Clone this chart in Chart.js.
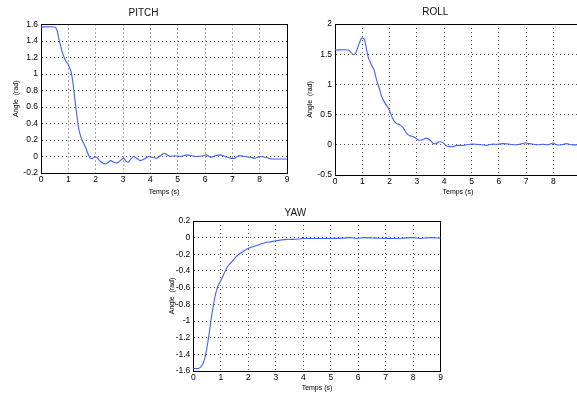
<!DOCTYPE html>
<html>
<head>
<meta charset="utf-8">
<script src="https://cdn.jsdelivr.net/npm/chart.js@4/dist/chart.umd.min.js"></script>
<style>
html,body{margin:0;padding:0;background:#fff;overflow:hidden;width:577px;height:394px;}
.box{position:absolute;}
canvas{display:block;}
</style>
</head>
<body>
<div class="box" style="left:0px;top:0px;width:300px;height:200px"><canvas id="pitch" width="300" height="200"></canvas></div>
<div class="box" style="left:290px;top:0px;width:310px;height:200px"><canvas id="roll" width="310" height="200"></canvas></div>
<div class="box" style="left:150px;top:195px;width:300px;height:199px"><canvas id="yaw" width="300" height="199"></canvas></div>
<script>
// ---- data ----
const pitchT = [0,0.5,0.585,0.68,0.79,0.89,1.0,1.1,1.17,1.24,1.32,1.39,1.5,1.62,1.71,1.8,1.9,1.99,2.07,2.17,2.37,2.54,2.66,2.78,2.9,3.02,3.12,3.2,3.29,3.39,3.54,3.63,3.78,3.94,4.06,4.24,4.37,4.51,4.61,4.73,4.91,5.1,5.34,5.52,5.7,5.95,6.07,6.2,6.38,6.56,6.74,6.93,7.1,7.23,7.48,7.66,7.84,8.02,8.2,8.33,8.45,8.63,9.0];
const pitchY = [1.57,1.57,1.53,1.39,1.25,1.17,1.11,1.03,0.89,0.69,0.48,0.32,0.2,0.12,0.04,-0.02,-0.02,0.0,-0.02,-0.06,-0.09,-0.05,-0.07,-0.08,-0.05,-0.02,-0.06,-0.07,-0.03,0.0,-0.03,-0.05,-0.03,0.0,-0.01,-0.02,0.01,0.04,0.02,0.0,0.01,0.0,0.02,0.01,0.0,0.01,0.02,-0.01,0.01,0.02,0.0,-0.02,-0.02,0.01,0.0,-0.01,-0.02,0.0,-0.01,-0.02,-0.03,-0.03,-0.03];

const rollT = [0,0.49,0.585,0.67,0.76,0.85,0.95,1.01,1.09,1.16,1.23,1.34,1.43,1.52,1.62,1.71,1.83,1.95,2.01,2.11,2.23,2.38,2.5,2.62,2.74,2.89,3.05,3.17,3.35,3.48,3.6,3.7,3.82,3.94,4.06,4.21,4.33,4.45,4.7,4.94,5.18,5.37,5.55,5.73,5.98,6.16,6.4,6.59,6.77,6.95,7.13,7.38,7.62,7.8,7.99,8.11,8.29,8.48,8.66,8.87,9.0];
const rollY = [1.57,1.57,1.53,1.49,1.52,1.63,1.75,1.77,1.73,1.57,1.43,1.32,1.24,1.08,0.94,0.8,0.69,0.61,0.55,0.44,0.36,0.33,0.28,0.19,0.15,0.13,0.08,0.08,0.11,0.08,0.02,0.02,0.05,0.04,-0.01,-0.03,-0.03,-0.01,-0.01,0.01,0.01,0.0,-0.01,0.01,0.01,0.02,0.01,0.0,0.01,0.03,0.02,0.0,0.01,0.0,0.03,0.0,0.0,0.02,0.0,0.0,0.0];

const yawT = [0,0.18,0.3,0.4,0.49,0.57,0.64,0.73,0.83,0.91,1.01,1.12,1.24,1.4,1.55,1.7,1.88,2.06,2.25,2.43,2.61,2.79,2.97,3.16,3.4,3.64,4.0,4.49,4.98,5.46,5.7,5.95,6.19,6.67,7.16,7.65,8.0,8.25,8.62,9.0];
const yawY = [-1.57,-1.57,-1.54,-1.47,-1.33,-1.17,-1.0,-0.81,-0.65,-0.57,-0.51,-0.43,-0.35,-0.29,-0.23,-0.19,-0.15,-0.12,-0.1,-0.08,-0.06,-0.05,-0.04,-0.03,-0.02,-0.02,-0.01,-0.01,-0.01,-0.005,0.0,-0.01,0.0,-0.005,-0.01,-0.005,0.0,-0.01,0.0,-0.005];

const xTicks = [0,1,2,3,4,5,6,7,8,9];
const pitchYTicks = [-0.2,0,0.2,0.4,0.6,0.8,1,1.2,1.4,1.6];
const rollYTicks = [-0.5,0,0.5,1,1.5,2];
const yawYTicks = [-1.6,-1.4,-1.2,-1,-0.8,-0.6,-0.4,-0.2,0,0.2];

const FONT = "'Liberation Sans', Arial, sans-serif";
const LINE = '#3f5fff';
const GRID = '#555';

function makeChart(id, title, T, Y, yTicks, g) {
  const pts = T.map((t, i) => ({x: t, y: Y[i]}));
  const fixTicks = arr => (s => { s.ticks = arr.map(v => ({value: v})); });
  new Chart(document.getElementById(id), {
    type: 'line',
    data: { datasets: [{ data: pts, borderColor: LINE, borderWidth: 1.1, pointRadius: 0, tension: 0.25, fill: false }] },
    options: {
      responsive: false, animation: false, devicePixelRatio: 1,
      layout: { padding: { top: 0, right: g.padRight, bottom: 0, left: 0 } },
      plugins: {
        legend: { display: false }, tooltip: { enabled: false },
        title: { display: true, text: title, color: '#111', font: { family: FONT, size: 10, weight: 'normal' }, padding: { top: g.tTop, bottom: g.tBot } }
      },
      scales: {
        x: {
          type: 'linear', position: 'bottom', min: 0, max: 9,
          afterBuildTicks: fixTicks(xTicks),
          afterFit: s => { s.height = g.xH; },
          ticks: { color: '#000', font: { family: FONT, size: 8.5 }, padding: 2, maxRotation: 0, autoSkip: false, callback: v => String(v) },
          grid: { color: GRID, lineWidth: 1, drawTicks: false },
          border: { display: true, color: '#000', width: 1, dash: [1, 3] },
          title: { display: true, text: 'Temps (s)', color: '#000', font: { family: FONT, size: 7 }, padding: { top: 0, bottom: g.xTitlePad } }
        },
        y: {
          type: 'linear', position: 'left', min: yTicks[0], max: yTicks[yTicks.length - 1],
          afterBuildTicks: fixTicks(yTicks),
          afterFit: s => { s.width = g.yW; },
          ticks: { color: '#000', font: { family: FONT, size: 8.5 }, padding: 3, autoSkip: false, callback: v => String(Math.round(v * 10) / 10) },
          grid: { color: GRID, lineWidth: 1, drawTicks: false },
          border: { display: true, color: '#000', width: 1, dash: [1, 3] },
          title: { display: true, text: 'Angle  (rad)', color: '#000', font: { family: FONT, size: 7 }, padding: { top: g.yTitlePad, bottom: 0 } }
        },
        x2: {
          type: 'linear', position: 'top', min: 0, max: 9,
          afterFit: s => { s.height = 0; },
          ticks: { display: false }, grid: { display: false, drawTicks: false },
          border: { display: true, color: '#000', width: 1 }
        },
        y2: {
          type: 'linear', position: 'right', min: 0, max: 1,
          afterFit: s => { s.width = 0; },
          ticks: { display: false }, grid: { display: false, drawTicks: false },
          border: { display: true, color: '#000', width: 1 }
        }
      }
    }
  });
}

makeChart('pitch', 'PITCH', pitchT, pitchY, pitchYTicks,
  { padRight: 13, tTop: 7, tBot: 5.5, xH: 27, yW: 41, xTitlePad: 3.8, yTitlePad: 12 });
makeChart('roll', 'ROLL', rollT, rollY, rollYTicks,
  { padRight: 19.3, tTop: 6.5, tBot: 5.5, xH: 25, yW: 45, xTitlePad: 4.1, yTitlePad: 15.8 });
makeChart('yaw', 'YAW', yawT, yawY, yawYTicks,
  { padRight: 9.3, tTop: 12, tBot: 2, xH: 23, yW: 43.3, xTitlePad: 1.8, yTitlePad: 17.5 });
</script>
</body>
</html>
